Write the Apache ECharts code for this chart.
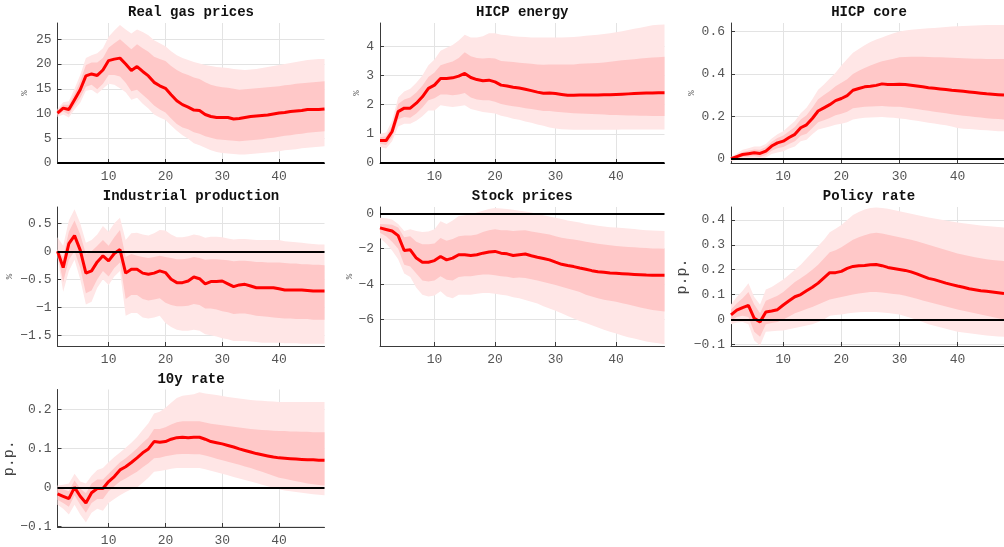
<!DOCTYPE html>
<html>
<head>
<meta charset="utf-8">
<script src="https://cdn.jsdelivr.net/npm/echarts@6/dist/echarts.min.js"></script>
<style>
html, body { margin: 0; padding: 0; background: #fff; }
#irf { width: 1004px; height: 547px; }
</style>
</head>
<body>
<div id="irf"></div>
<script>
// horizon (months)
var steps = [1,2,3,4,5,6,7,8,9,10,11,12,13,14,15,16,17,18,19,20,21,22,23,24,25,26,27,28,29,30,31,32,33,34,35,36,37,38,39,40,41,42,43,44,45,46,47,48];
var xTicks = [10, 20, 30, 40];

// Real gas prices
var gasMed = [10.1,11.1,10.8,12.8,14.8,17.6,18.0,17.7,18.8,20.7,21.0,21.2,20.0,18.7,19.5,18.5,17.6,16.3,15.6,15.1,13.8,12.6,11.8,11.3,10.7,10.6,9.8,9.4,9.2,9.2,9.2,8.9,9.0,9.2,9.4,9.5,9.6,9.7,9.9,10.1,10.2,10.4,10.5,10.6,10.8,10.8,10.8,10.9];
var gasInHi = [10.6,11.8,11.8,14.0,16.5,19.8,20.3,20.3,21.2,23.3,24.2,25.0,24.0,23.0,24.0,23.2,22.5,21.5,21.0,20.6,19.6,18.8,18.2,17.8,17.3,17.0,16.3,15.8,15.5,15.3,15.2,15.0,14.8,14.9,15.0,15.1,15.2,15.3,15.4,15.5,15.7,15.8,16.0,16.1,16.2,16.3,16.4,16.5];
var gasInLo = [9.6,10.4,9.8,11.6,13.2,15.4,15.8,14.9,16.0,17.8,17.8,17.5,16.2,14.5,14.8,13.8,12.8,11.6,10.8,10.2,9.0,7.9,7.2,6.8,6.2,5.9,5.4,5.1,4.8,4.7,4.6,4.5,4.4,4.5,4.6,4.7,4.8,5.0,5.1,5.3,5.5,5.6,5.8,5.9,6.1,6.2,6.3,6.4];
var gasOutHi = [10.9,12.3,12.5,15.0,17.8,21.2,21.8,22.2,23.2,25.5,26.8,27.9,27.0,26.2,27.0,26.5,25.8,24.8,24.2,23.6,22.6,21.8,21.2,20.8,20.4,20.1,19.8,19.6,19.4,19.3,19.2,19.0,18.9,18.8,18.9,19.0,19.2,19.4,19.6,19.8,20.0,20.2,20.4,20.6,20.8,20.9,21.0,21.0];
var gasOutLo = [9.3,9.8,9.2,10.8,12.2,14.6,14.8,14.0,15.0,16.0,15.8,15.1,14.3,12.8,13.2,12.0,11.0,9.8,9.2,8.7,7.6,6.5,5.6,4.9,4.0,3.6,3.1,2.6,2.2,2.0,1.9,1.8,1.7,1.7,1.8,1.9,2.0,2.1,2.2,2.4,2.6,2.7,2.8,3.0,3.1,3.2,3.3,3.4];
var gasTicks = [0, 5, 10, 15, 20, 25];

// HICP energy
var enMed = [0.77,0.77,1.08,1.76,1.88,1.88,2.05,2.27,2.56,2.67,2.90,2.90,2.92,2.98,3.07,2.93,2.86,2.82,2.84,2.78,2.67,2.64,2.60,2.57,2.53,2.48,2.43,2.39,2.40,2.38,2.35,2.32,2.32,2.33,2.33,2.33,2.33,2.34,2.34,2.35,2.36,2.37,2.38,2.39,2.40,2.40,2.41,2.41];
var enInHi = [0.88,0.92,1.28,2.02,2.18,2.25,2.42,2.65,2.95,3.10,3.35,3.42,3.48,3.60,3.80,3.66,3.60,3.58,3.60,3.58,3.50,3.48,3.46,3.44,3.42,3.40,3.38,3.37,3.38,3.38,3.38,3.38,3.38,3.40,3.41,3.42,3.43,3.45,3.47,3.50,3.52,3.54,3.56,3.58,3.60,3.62,3.63,3.64];
var enInLo = [0.66,0.62,0.88,1.50,1.58,1.55,1.70,1.90,2.15,2.22,2.35,2.35,2.32,2.35,2.40,2.25,2.18,2.15,2.15,2.10,2.02,1.98,1.95,1.92,1.88,1.85,1.82,1.78,1.78,1.76,1.74,1.72,1.71,1.70,1.69,1.68,1.67,1.66,1.65,1.65,1.64,1.63,1.63,1.62,1.62,1.61,1.61,1.61];
var enOutHi = [1.00,1.05,1.45,2.25,2.45,2.55,2.75,3.00,3.35,3.55,3.85,3.95,4.05,4.20,4.40,4.30,4.30,4.35,4.45,4.45,4.40,4.38,4.35,4.33,4.32,4.30,4.30,4.30,4.30,4.30,4.30,4.31,4.32,4.34,4.36,4.38,4.40,4.42,4.45,4.48,4.52,4.56,4.60,4.64,4.68,4.72,4.74,4.75];
var enOutLo = [0.55,0.50,0.75,1.25,1.35,1.35,1.45,1.60,1.80,1.80,1.98,1.95,1.92,1.95,1.98,1.85,1.80,1.75,1.72,1.70,1.62,1.58,1.52,1.48,1.42,1.38,1.32,1.28,1.22,1.18,1.16,1.15,1.14,1.14,1.14,1.14,1.14,1.14,1.14,1.14,1.15,1.15,1.15,1.15,1.15,1.15,1.15,1.15];
var enTicks = [0, 1, 2, 3, 4];

// HICP core
var coreMed = [0.000,0.010,0.020,0.024,0.028,0.025,0.036,0.060,0.075,0.083,0.100,0.115,0.146,0.160,0.190,0.225,0.240,0.255,0.274,0.284,0.298,0.323,0.331,0.339,0.342,0.346,0.353,0.350,0.350,0.351,0.350,0.347,0.343,0.339,0.335,0.332,0.329,0.326,0.323,0.321,0.318,0.315,0.312,0.309,0.306,0.304,0.302,0.300];
var coreInHi = [0.004,0.018,0.032,0.038,0.044,0.043,0.055,0.080,0.098,0.110,0.130,0.150,0.185,0.205,0.240,0.280,0.300,0.320,0.342,0.358,0.375,0.400,0.415,0.428,0.440,0.450,0.460,0.466,0.472,0.478,0.480,0.481,0.481,0.481,0.480,0.479,0.478,0.477,0.476,0.475,0.474,0.473,0.472,0.471,0.470,0.470,0.470,0.470];
var coreInLo = [-0.004,0.002,0.008,0.010,0.012,0.008,0.018,0.038,0.050,0.056,0.070,0.082,0.108,0.118,0.145,0.172,0.182,0.192,0.205,0.212,0.222,0.238,0.242,0.245,0.246,0.247,0.249,0.246,0.245,0.245,0.242,0.238,0.234,0.230,0.226,0.222,0.218,0.214,0.210,0.206,0.203,0.200,0.197,0.194,0.191,0.189,0.187,0.185];
var coreOutHi = [0.008,0.025,0.042,0.050,0.058,0.058,0.070,0.095,0.115,0.130,0.155,0.178,0.215,0.240,0.280,0.325,0.350,0.378,0.405,0.440,0.470,0.500,0.518,0.535,0.550,0.562,0.572,0.582,0.592,0.600,0.605,0.608,0.611,0.613,0.615,0.617,0.619,0.621,0.623,0.625,0.626,0.627,0.628,0.629,0.630,0.630,0.630,0.630];
var coreOutLo = [-0.010,-0.006,-0.002,0.000,0.002,-0.002,0.006,0.022,0.030,0.035,0.048,0.058,0.082,0.090,0.115,0.138,0.145,0.152,0.160,0.165,0.172,0.185,0.190,0.193,0.195,0.196,0.197,0.195,0.193,0.190,0.187,0.183,0.179,0.175,0.170,0.166,0.162,0.158,0.152,0.145,0.142,0.140,0.138,0.136,0.134,0.132,0.130,0.130];
var coreTicks = [0, 0.2, 0.4, 0.6];

// Industrial production
var ipMed = [0.00,-0.29,0.135,0.28,0.02,-0.39,-0.35,-0.19,-0.08,-0.17,-0.04,0.03,-0.39,-0.32,-0.32,-0.39,-0.41,-0.39,-0.35,-0.38,-0.50,-0.56,-0.56,-0.53,-0.46,-0.49,-0.58,-0.54,-0.54,-0.53,-0.58,-0.63,-0.60,-0.59,-0.62,-0.65,-0.65,-0.65,-0.65,-0.67,-0.69,-0.69,-0.69,-0.69,-0.70,-0.71,-0.71,-0.71];
var ipInHi = [0.03,-0.10,0.35,0.55,0.30,-0.05,0.00,0.10,0.20,0.10,0.25,0.38,-0.10,-0.05,-0.08,-0.10,-0.12,-0.10,-0.08,-0.10,-0.12,-0.14,-0.14,-0.13,-0.10,-0.12,-0.15,-0.14,-0.14,-0.15,-0.16,-0.18,-0.17,-0.17,-0.18,-0.19,-0.19,-0.20,-0.20,-0.20,-0.21,-0.22,-0.22,-0.23,-0.23,-0.24,-0.24,-0.25];
var ipInLo = [-0.05,-0.55,-0.15,0.00,-0.30,-0.75,-0.70,-0.50,-0.35,-0.45,-0.30,-0.20,-0.85,-0.78,-0.78,-0.85,-0.88,-0.86,-0.84,-0.92,-0.96,-0.98,-0.98,-0.97,-0.94,-0.96,-1.02,-1.02,-1.04,-1.07,-1.09,-1.12,-1.11,-1.11,-1.13,-1.15,-1.16,-1.17,-1.18,-1.19,-1.20,-1.20,-1.21,-1.21,-1.21,-1.22,-1.22,-1.22];
var ipOutHi = [0.25,0.10,0.55,0.75,0.50,0.15,0.20,0.30,0.45,0.35,0.50,0.60,0.20,0.32,0.33,0.30,0.28,0.32,0.38,0.37,0.30,0.25,0.25,0.27,0.30,0.28,0.24,0.26,0.26,0.25,0.23,0.21,0.22,0.22,0.21,0.20,0.20,0.20,0.20,0.20,0.18,0.17,0.16,0.15,0.14,0.13,0.12,0.12];
var ipOutLo = [-0.10,-0.72,-0.35,-0.15,-0.50,-0.95,-0.90,-0.65,-0.50,-0.60,-0.45,-0.35,-1.15,-1.10,-1.10,-1.18,-1.20,-1.18,-1.15,-1.28,-1.35,-1.40,-1.42,-1.42,-1.40,-1.42,-1.48,-1.50,-1.52,-1.55,-1.57,-1.60,-1.60,-1.60,-1.61,-1.62,-1.63,-1.63,-1.63,-1.63,-1.64,-1.64,-1.64,-1.65,-1.65,-1.65,-1.65,-1.65];
var ipTicks = [-1.5, -1, -0.5, 0, 0.5];

// Stock prices
var stMed = [-0.82,-0.91,-1.00,-1.26,-2.10,-2.06,-2.53,-2.76,-2.76,-2.67,-2.44,-2.63,-2.53,-2.34,-2.34,-2.38,-2.34,-2.25,-2.19,-2.15,-2.25,-2.29,-2.38,-2.34,-2.30,-2.40,-2.48,-2.55,-2.63,-2.76,-2.88,-2.95,-3.01,-3.09,-3.16,-3.24,-3.30,-3.33,-3.37,-3.39,-3.41,-3.43,-3.45,-3.47,-3.49,-3.50,-3.50,-3.50];
var stInHi = [-0.60,-0.62,-0.65,-0.80,-1.35,-1.30,-1.60,-1.75,-1.75,-1.70,-1.40,-1.55,-1.45,-1.30,-1.25,-1.25,-1.20,-1.05,-0.95,-0.90,-0.95,-0.95,-1.00,-0.97,-0.95,-1.02,-1.08,-1.14,-1.20,-1.30,-1.38,-1.44,-1.48,-1.54,-1.60,-1.66,-1.72,-1.76,-1.80,-1.85,-1.88,-1.90,-1.92,-1.94,-1.96,-1.98,-1.99,-2.00];
var stInLo = [-1.10,-1.30,-1.60,-2.00,-2.90,-3.00,-3.40,-3.80,-3.85,-3.80,-3.55,-3.75,-3.80,-3.60,-3.55,-3.55,-3.50,-3.45,-3.45,-3.50,-3.55,-3.58,-3.65,-3.62,-3.65,-3.72,-3.80,-3.88,-3.96,-4.05,-4.15,-4.25,-4.35,-4.45,-4.60,-4.70,-4.80,-4.88,-4.94,-5.00,-5.08,-5.16,-5.24,-5.32,-5.40,-5.46,-5.50,-5.55];
var stOutHi = [-0.25,-0.28,-0.35,-0.60,-1.00,-0.90,-1.00,-1.05,-1.02,-0.90,-0.45,-0.60,-0.40,-0.15,-0.10,-0.05,0.05,0.15,0.25,0.30,0.28,0.25,0.20,0.15,0.10,0.05,-0.02,-0.10,-0.18,-0.25,-0.32,-0.40,-0.46,-0.52,-0.60,-0.65,-0.70,-0.74,-0.78,-0.80,-0.83,-0.86,-0.89,-0.92,-0.95,-0.97,-0.99,-1.00];
var stOutLo = [-1.40,-1.70,-2.10,-2.60,-3.40,-3.60,-4.20,-4.60,-4.70,-4.65,-4.40,-4.70,-4.80,-4.60,-4.60,-4.60,-4.55,-4.50,-4.50,-4.55,-4.60,-4.65,-4.75,-4.80,-4.90,-5.00,-5.10,-5.25,-5.38,-5.50,-5.65,-5.80,-5.95,-6.08,-6.20,-6.32,-6.45,-6.58,-6.70,-6.80,-6.90,-7.00,-7.08,-7.16,-7.24,-7.30,-7.35,-7.40];
var stTicks = [-6, -4, -2, 0];

// Policy rate
var prMed = [0.018,0.037,0.047,0.056,0.004,-0.010,0.030,0.034,0.039,0.058,0.075,0.091,0.100,0.115,0.129,0.146,0.167,0.188,0.188,0.193,0.205,0.213,0.216,0.217,0.220,0.221,0.216,0.209,0.205,0.201,0.197,0.191,0.183,0.174,0.165,0.160,0.153,0.146,0.140,0.134,0.129,0.123,0.119,0.115,0.113,0.110,0.107,0.104];
var prInHi = [0.040,0.065,0.085,0.110,0.060,0.025,0.075,0.085,0.095,0.110,0.130,0.150,0.165,0.182,0.200,0.220,0.245,0.270,0.278,0.290,0.305,0.320,0.330,0.338,0.345,0.348,0.345,0.340,0.335,0.330,0.325,0.320,0.314,0.307,0.300,0.293,0.286,0.279,0.272,0.265,0.260,0.255,0.250,0.246,0.242,0.239,0.237,0.235];
var prInLo = [-0.005,0.010,0.015,0.010,-0.050,-0.070,-0.020,-0.015,-0.010,0.000,0.012,0.025,0.033,0.042,0.050,0.060,0.070,0.080,0.085,0.090,0.095,0.100,0.104,0.107,0.110,0.110,0.108,0.105,0.102,0.100,0.095,0.089,0.083,0.076,0.070,0.064,0.058,0.052,0.046,0.040,0.035,0.030,0.025,0.020,0.015,0.010,0.005,0.000];
var prOutHi = [0.060,0.090,0.115,0.145,0.090,0.060,0.120,0.130,0.145,0.160,0.180,0.200,0.220,0.245,0.270,0.295,0.320,0.350,0.365,0.380,0.400,0.420,0.432,0.442,0.448,0.450,0.448,0.445,0.440,0.435,0.430,0.425,0.420,0.415,0.410,0.406,0.402,0.398,0.394,0.390,0.387,0.384,0.381,0.378,0.376,0.374,0.372,0.370];
var prOutLo = [-0.020,-0.012,-0.010,-0.020,-0.085,-0.105,-0.050,-0.048,-0.046,-0.045,-0.040,-0.035,-0.030,-0.025,-0.020,-0.010,0.000,0.015,0.018,0.020,0.024,0.027,0.029,0.030,0.030,0.030,0.028,0.026,0.023,0.020,0.013,0.006,-0.002,-0.010,-0.020,-0.026,-0.032,-0.038,-0.044,-0.050,-0.053,-0.056,-0.059,-0.062,-0.065,-0.067,-0.069,-0.070];
var prTicks = [-0.1, 0, 0.1, 0.2, 0.3, 0.4];

// 10y rate
var tyMed = [-0.017,-0.023,-0.029,0.000,-0.023,-0.040,-0.014,-0.003,-0.003,0.015,0.028,0.045,0.053,0.064,0.076,0.089,0.099,0.118,0.116,0.118,0.124,0.128,0.129,0.128,0.129,0.129,0.124,0.118,0.115,0.112,0.108,0.104,0.099,0.095,0.091,0.087,0.084,0.081,0.078,0.076,0.075,0.074,0.073,0.072,0.071,0.071,0.070,0.070];
var tyInHi = [-0.003,-0.005,-0.010,0.018,-0.003,-0.015,0.010,0.020,0.020,0.035,0.050,0.065,0.075,0.087,0.100,0.115,0.128,0.150,0.150,0.155,0.162,0.168,0.170,0.170,0.170,0.170,0.167,0.164,0.162,0.160,0.158,0.156,0.154,0.152,0.150,0.149,0.148,0.147,0.146,0.145,0.145,0.144,0.144,0.143,0.143,0.142,0.142,0.142];
var tyInLo = [-0.032,-0.040,-0.050,-0.020,-0.045,-0.065,-0.040,-0.030,-0.030,-0.010,0.003,0.015,0.023,0.032,0.040,0.052,0.062,0.075,0.076,0.080,0.083,0.085,0.086,0.086,0.085,0.085,0.082,0.078,0.074,0.070,0.066,0.062,0.058,0.054,0.050,0.045,0.040,0.035,0.030,0.025,0.022,0.019,0.016,0.013,0.010,0.008,0.006,0.005];
var tyOutHi = [0.005,0.007,0.010,0.035,0.015,0.010,0.030,0.045,0.050,0.065,0.078,0.090,0.102,0.115,0.130,0.148,0.165,0.190,0.195,0.205,0.218,0.230,0.236,0.238,0.240,0.245,0.242,0.240,0.238,0.235,0.233,0.231,0.229,0.227,0.225,0.224,0.223,0.222,0.221,0.220,0.220,0.220,0.220,0.220,0.220,0.220,0.220,0.220];
var tyOutLo = [-0.045,-0.055,-0.070,-0.045,-0.070,-0.090,-0.065,-0.055,-0.060,-0.040,-0.030,-0.020,-0.012,-0.005,0.000,0.012,0.025,0.040,0.042,0.045,0.048,0.050,0.050,0.050,0.050,0.050,0.047,0.043,0.039,0.035,0.031,0.027,0.023,0.019,0.015,0.011,0.007,0.003,-0.001,-0.005,-0.008,-0.010,-0.012,-0.014,-0.016,-0.018,-0.019,-0.020];
var tyTicks = [-0.1, 0, 0.1, 0.2];

var panels = [
  { title: 'Real gas prices', unit: '%', med: gasMed, inLo: gasInLo, inHi: gasInHi, outLo: gasOutLo, outHi: gasOutHi, ymin: 0, ymax: 28.3, ticks: gasTicks },
  { title: 'HICP energy', unit: '%', med: enMed, inLo: enInLo, inHi: enInHi, outLo: enOutLo, outHi: enOutHi, ymin: 0, ymax: 4.8, ticks: enTicks },
  { title: 'HICP core', unit: '%', med: coreMed, inLo: coreInLo, inHi: coreInHi, outLo: coreOutLo, outHi: coreOutHi, ymin: -0.02, ymax: 0.64, ticks: coreTicks },
  { title: 'Industrial production', unit: '%', med: ipMed, inLo: ipInLo, inHi: ipInHi, outLo: ipOutLo, outHi: ipOutHi, ymin: -1.69, ymax: 0.79, ticks: ipTicks },
  { title: 'Stock prices', unit: '%', med: stMed, inLo: stInLo, inHi: stInHi, outLo: stOutLo, outHi: stOutHi, ymin: -7.5, ymax: 0.36, ticks: stTicks },
  { title: 'Policy rate', unit: 'p.p.', med: prMed, inLo: prInLo, inHi: prInHi, outLo: prOutLo, outHi: prOutHi, ymin: -0.107, ymax: 0.452, ticks: prTicks },
  { title: '10y rate', unit: 'p.p.', med: tyMed, inLo: tyInLo, inHi: tyInHi, outLo: tyOutLo, outHi: tyOutHi, ymin: -0.102, ymax: 0.252, ticks: tyTicks }
];

// plot boxes: left, top, width, height, gap of the unit label
var boxes = [
  [57.5, 23, 267, 140, 28],
  [380, 23, 284.5, 140, 18.5],
  [731, 23, 276, 140, 34.5],
  [57.5, 207, 267, 139, 43],
  [380, 207, 284.5, 139, 25.5],
  [731, 207, 276, 139, 36],
  [57.5, 389.5, 267, 140.5, 36.5]
];

var mono = 'Liberation Mono';
var tickColor = '#555';
var axisColor = '#3a3a3a';
var gridColor = '#e3e3e3';

function fmt(v) {
  return v < 0 ? '\u2212' + Math.abs(v) : String(v);
}

function band(lo, hi, color, idx) {
  return {
    type: 'custom',
    xAxisIndex: idx,
    yAxisIndex: idx,
    silent: true,
    z: 1,
    data: [[steps[0], hi[0]]],
    renderItem: function (params, api) {
      var pts = [];
      for (var i = 0; i < hi.length; i++) pts.push(api.coord([steps[i], hi[i]]));
      for (var j = lo.length - 1; j >= 0; j--) pts.push(api.coord([steps[j], lo[j]]));
      return { type: 'polygon', shape: { points: pts }, style: { fill: color } };
    }
  };
}

var option = { animation: false, title: [], grid: [], xAxis: [], yAxis: [], series: [] };

panels.forEach(function (p, i) {
  var b = boxes[i];
  option.grid.push({ left: b[0], top: b[1], width: b[2], height: b[3] });
  option.title.push({
    text: p.title,
    left: b[0] + b[2] / 2,
    top: b[1] - 17.5,
    padding: 0,
    textAlign: 'center',
    textStyle: { fontFamily: mono, fontWeight: 'bold', fontSize: 14, color: '#111' }
  });
  option.xAxis.push({
    type: 'value', gridIndex: i, min: 1, max: 48,
    axisLine: { show: true, onZero: false, lineStyle: { color: axisColor, width: 1 } },
    axisTick: { show: true, inside: true, length: 4, customValues: xTicks, lineStyle: { color: axisColor } },
    axisLabel: { customValues: xTicks, fontFamily: mono, fontSize: 13, color: tickColor, margin: 7 },
    splitLine: { show: true, lineStyle: { color: gridColor, width: 1 } }
  });
  var big = p.unit === 'p.p.';
  option.yAxis.push({
    type: 'value', gridIndex: i, min: p.ymin, max: p.ymax,
    name: p.unit, nameLocation: 'middle', nameGap: b[4], nameRotate: 90,
    nameTextStyle: { fontFamily: mono, fontSize: big ? 15 : 9, color: big ? '#444' : '#666' },
    axisLine: { show: true, onZero: false, lineStyle: { color: axisColor, width: 1 } },
    axisTick: { show: true, inside: true, length: 4, customValues: p.ticks, lineStyle: { color: axisColor } },
    axisLabel: { customValues: p.ticks, fontFamily: mono, fontSize: 13, color: tickColor, margin: 6, formatter: fmt },
    splitLine: { show: true, lineStyle: { color: gridColor, width: 1 } }
  });
  option.series.push(band(p.outLo, p.outHi, '#ffe6e6', i));
  option.series.push(band(p.inLo, p.inHi, '#ffc8c8', i));
  option.series.push({
    type: 'line', xAxisIndex: i, yAxisIndex: i, z: 3,
    data: steps.map(function (s, k) { return [s, p.med[k]]; }),
    showSymbol: false, silent: true,
    lineStyle: { color: '#ff0000', width: 3 },
    markLine: {
      silent: true, symbol: 'none', label: { show: false },
      lineStyle: { color: '#000', width: 2, type: 'solid' },
      data: [{ yAxis: 0 }]
    }
  });
});

var chart = echarts.init(document.getElementById('irf'));
chart.setOption(option);
</script>
</body>
</html>
